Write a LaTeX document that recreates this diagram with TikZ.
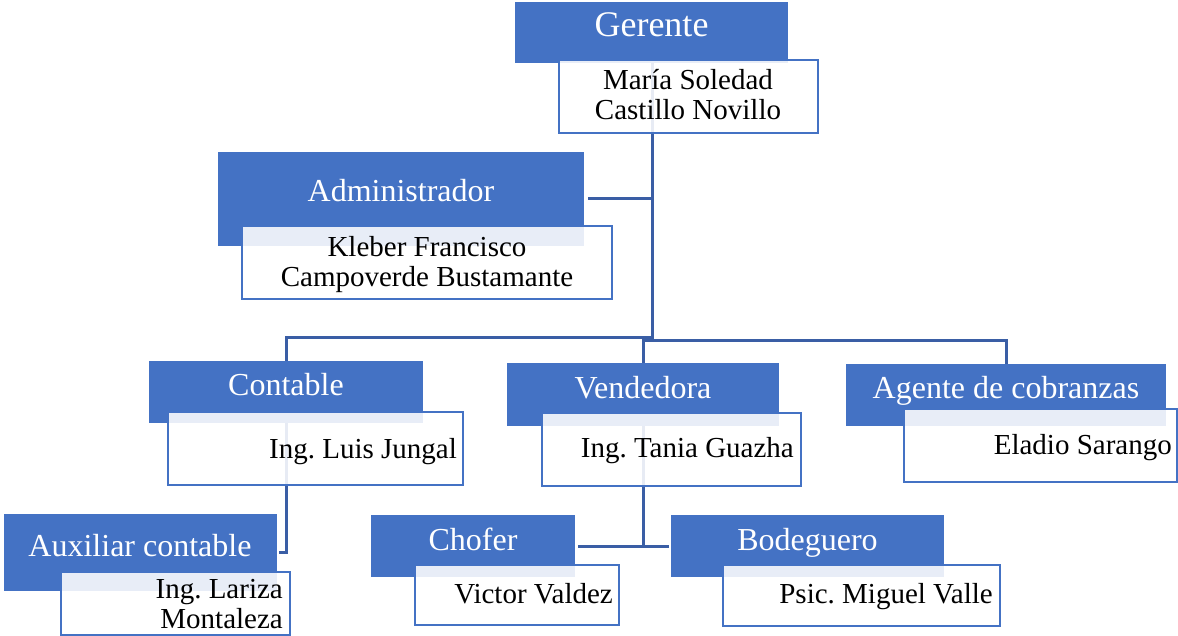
\documentclass[tikz,border=0pt]{standalone}
\usepackage{fontspec}
\setmainfont{Liberation Serif}
\usetikzlibrary{calc}
\definecolor{tblue}{RGB}{68,114,196}
\definecolor{cblue}{RGB}{58,94,165}
\pgfdeclarelayer{bg}
\pgfsetlayers{bg,main}
\frenchspacing
\tikzset{
  titlebox/.style={draw=none,fill=tblue,inner sep=0pt,outer sep=0pt},
  namebox/.style={draw=tblue,line width=2.4pt,fill=white,fill opacity=0.88,inner sep=0pt,outer sep=0pt},
  ttext/.style={text=white,inner sep=0pt,font=\fontsize{32}{36}\selectfont},
  ntext/.style={text=black,inner sep=0pt,font=\fontsize{29}{30}\selectfont},
  conn/.style={draw=cblue,line width=3pt}
}
\begin{document}
\begin{tikzpicture}[x=1pt,y=-1pt]
\useasboundingbox (0,0) rectangle (1178,636);
% boxes
\node[titlebox,minimum width=273pt,minimum height=61pt] (gerT) at (651.5,32.5) {};
\node[namebox,minimum width=259pt,minimum height=73pt] (gerN) at (688.5,96.5) {};
\node[titlebox,minimum width=366pt,minimum height=94pt] (admT) at (401,199) {};
\node[namebox,minimum width=370pt,minimum height=73pt] (admN) at (427,262.5) {};
\node[titlebox,minimum width=274pt,minimum height=62pt] (conT) at (286,392) {};
\node[namebox,minimum width=295pt,minimum height=73pt] (conN) at (315.5,448.5) {};
\node[titlebox,minimum width=272pt,minimum height=63pt] (venT) at (643,394.5) {};
\node[namebox,minimum width=259pt,minimum height=73pt] (venN) at (671.5,449.5) {};
\node[titlebox,minimum width=320pt,minimum height=62pt] (ageT) at (1006,395) {};
\node[namebox,minimum width=273pt,minimum height=73pt] (ageN) at (1040.5,445.5) {};
\node[titlebox,minimum width=273pt,minimum height=77pt] (auxT) at (140.5,552.5) {};
\node[namebox,minimum width=229pt,minimum height=63pt] (auxN) at (175.5,603.5) {};
\node[titlebox,minimum width=204pt,minimum height=62pt] (choT) at (473,546) {};
\node[namebox,minimum width=204pt,minimum height=60pt] (choN) at (517,595) {};
\node[titlebox,minimum width=273pt,minimum height=62pt] (bodT) at (807.5,546) {};
\node[namebox,minimum width=277pt,minimum height=61pt] (bodN) at (861.5,595.5) {};
% texts
\node[ttext,anchor=base,font=\fontsize{36}{40}\selectfont] (gerTx) at (651.5,37) {Gerente};
\node[ntext,anchor=base,align=center] (gerNx) at (688,120) {María Soledad\\Castillo Novillo};
\node[ttext,anchor=base] (admTx) at (401,202) {Administrador};
\node[ntext,anchor=base,align=center] (admNx) at (427,287) {Kleber Francisco\\Campoverde Bustamante};
\node[ttext,anchor=base] (conTx) at (286,395) {Contable};
\node[ntext,anchor=base east] (conNx) at (457,458) {Ing. Luis Jungal};
\node[ttext,anchor=base] (venTx) at (643,398) {Vendedora};
\node[ntext,anchor=base east] (venNx) at (794,457) {Ing. Tania Guazha};
\node[ttext,anchor=base] (ageTx) at (1006,398) {Agente de cobranzas};
\node[ntext,anchor=base east] (ageNx) at (1172,454) {Eladio Sarango};
\node[ttext,anchor=base] (auxTx) at (140,556) {Auxiliar contable};
\node[ntext,anchor=base east,align=right] (auxNx) at (283,628) {Ing. Lariza\\Montaleza};
\node[ttext,anchor=base] (choTx) at (473,550) {Chofer};
\node[ntext,anchor=base east] (choNx) at (613,603) {Victor Valdez};
\node[ttext,anchor=base] (bodTx) at (807.5,550) {Bodeguero};
\node[ntext,anchor=base east] (bodNx) at (993,603) {Psic. Miguel Valle};
% bus coordinates
\coordinate (tk) at (652,340);
\coordinate (bl) at (652,337);
\coordinate (br) at (643,340);
\begin{pgfonlayer}{bg}
\draw[conn] (gerN.north -| tk) -- (tk);
\draw[conn] ([xshift=4pt]admT.east) -- (admT.east -| tk);
\draw[conn] (bl) -| (conT.north);
\draw[conn] (venT.north) |- (ageT.north |- br) -- (ageT.north);
\draw[conn] (conT.south) |- ([xshift=2pt]auxT.east);
\draw[conn] (venT.south) -- (venT.south |- choT.east);
\draw[conn] ([xshift=3pt]choT.east) -- ([xshift=-2pt]bodT.west);
\end{pgfonlayer}
\end{tikzpicture}
\end{document}
